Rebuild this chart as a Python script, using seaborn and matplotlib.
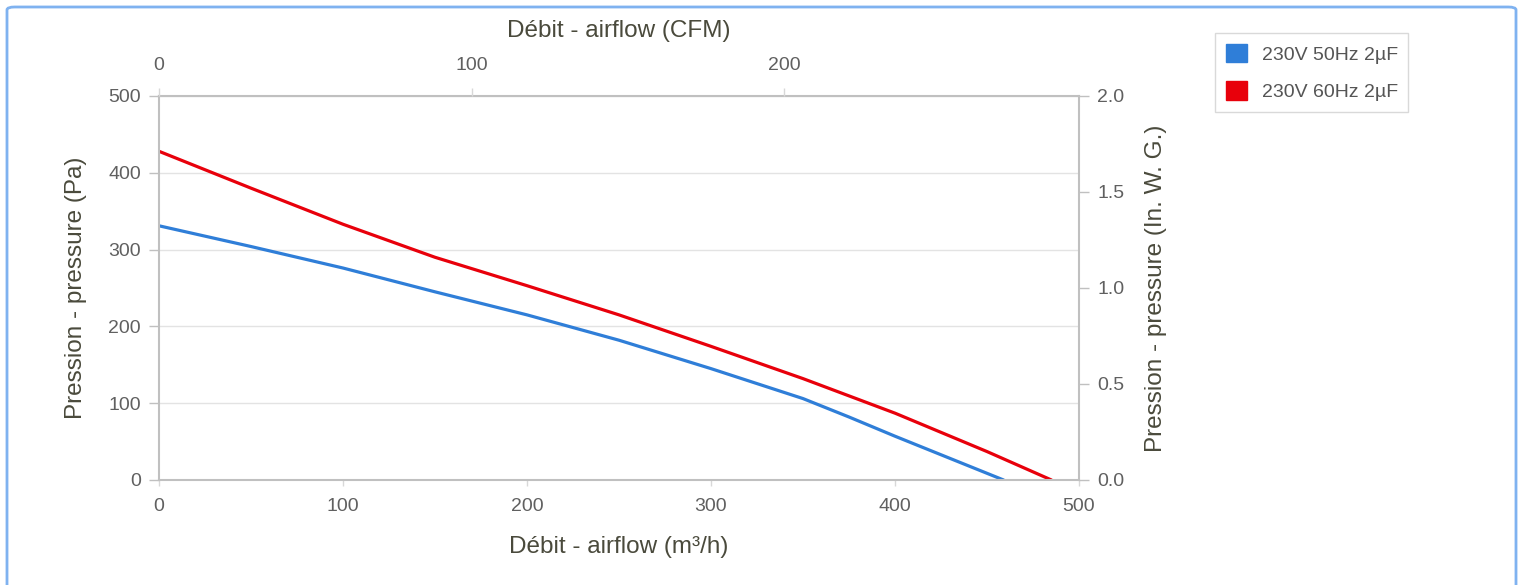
import matplotlib
matplotlib.use("Agg")
import matplotlib.pyplot as plt
from matplotlib.patches import Patch, FancyBboxPatch
import seaborn as sns
import pandas as pd

airflow_50 = [0, 50, 100, 150, 200, 250, 300, 350, 375, 400, 430, 459]
pressure_50 = [331, 304, 276, 245, 215, 182, 145, 106, 82, 57, 28, 0]
airflow_60 = [0, 50, 100, 150, 200, 250, 300, 350, 400, 450, 485]
pressure_60 = [428, 380, 333, 290, 253, 215, 174, 132, 87, 37, 0]
series_names = ["230V 50Hz 2µF", "230V 60Hz 2µF"]
colors = ["#2f7ed8", "#e8000b"]

m3h_per_cfm = 1.699
pa_per_inwg = 250

df = pd.concat([
    pd.DataFrame({"airflow": airflow_50, "pressure": pressure_50, "serie": series_names[0]}),
    pd.DataFrame({"airflow": airflow_60, "pressure": pressure_60, "serie": series_names[1]}),
])

sns.set_style("white")
plt.rcParams['font.family'] = ['Liberation Sans', 'DejaVu Sans']

tick_col = "#606060"
lab_col = "#4a4a3c"
spine_col = "#c0c0c0"
tick_fs = 14
lab_fs = 17.5

fig = plt.figure(figsize=(15.23, 5.85), dpi=100)
ax = fig.add_axes([0.1044, 0.1795, 0.6041, 0.6564])

sns.lineplot(data=df, x="airflow", y="pressure", hue="serie", palette=colors,
             linewidth=2.3, ax=ax, legend=False, sort=False)

ax.set_xlim(0, 500)
ax.set_ylim(0, 500)
ax.set_xticks([0, 100, 200, 300, 400, 500])
ax.set_yticks([0, 100, 200, 300, 400, 500])
ax.grid(axis="y", color="#e3e3e3", linewidth=1)
ax.grid(axis="x", visible=False)
for s in ax.spines.values():
    s.set_color(spine_col)
    s.set_linewidth(1.5)
ax.tick_params(axis="y", length=7, width=1, color=spine_col, pad=6, labelcolor=tick_col, labelsize=tick_fs, left=True)
ax.tick_params(axis="x", length=4, width=1, color="#d8d8d8", pad=9, labelcolor=tick_col, labelsize=tick_fs, bottom=True)
ax.set_xlabel("Débit - airflow (m³/h)", color=lab_col, fontsize=lab_fs)
ax.set_ylabel("Pression - pressure (Pa)", color=lab_col, fontsize=lab_fs)
ax.xaxis.set_label_coords(0.5, -0.146)
ax.yaxis.set_label_coords(-0.078, 0.5)

# top axis: CFM
ax_top = ax.twiny()
ax_top.set_xlim(0, 500 / m3h_per_cfm)
ax_top.set_xticks([0, 100, 200])
ax_top.tick_params(axis="x", length=6, width=1, color="#d8d8d8", pad=10, labelcolor=tick_col, labelsize=tick_fs)
ax_top.set_xlabel("Débit - airflow (CFM)", color=lab_col, fontsize=lab_fs)
ax_top.xaxis.set_label_coords(0.5, 1.154)
for s in ax_top.spines.values():
    s.set_visible(False)

# right axis: inch water gauge
ax_right = ax.twinx()
ax_right.set_ylim(0, 500 / pa_per_inwg)
ax_right.set_yticks([0, 0.5, 1.0, 1.5, 2.0])
ax_right.set_yticklabels(["0.0", "0.5", "1.0", "1.5", "2.0"])
ax_right.tick_params(axis="y", length=7, width=1, color=spine_col, pad=6, labelcolor=tick_col, labelsize=tick_fs)
ax_right.set_ylabel("Pression - pressure (In. W. G.)", color=lab_col, fontsize=lab_fs)
ax_right.yaxis.set_label_coords(1.072, 0.5)
for s in ax_right.spines.values():
    s.set_visible(False)

handles = [Patch(facecolor=c, edgecolor=c) for c in colors]
leg = fig.legend(handles, series_names, loc="upper left",
                 bbox_to_anchor=(1215 / 1523, 1 - 33 / 585), frameon=True, fancybox=False,
                 fontsize=14, handlelength=1.1, handleheight=1.1, handletextpad=0.75,
                 labelspacing=0.9, borderpad=0.55, borderaxespad=0, labelcolor="#555555")
leg.get_frame().set_edgecolor("#d0d0d0")
leg.get_frame().set_linewidth(1)

# light blue frame around the whole chart
frame = FancyBboxPatch((7 / 1523, -0.05), 1509 / 1523, 1.05 - 7 / 585,
                       boxstyle="round,pad=0,rounding_size=0.005",
                       transform=fig.transFigure, fill=False,
                       edgecolor="#7fb2f0", linewidth=2, clip_on=False)
fig.patches.append(frame)

fig.savefig("out.png", dpi=100)
